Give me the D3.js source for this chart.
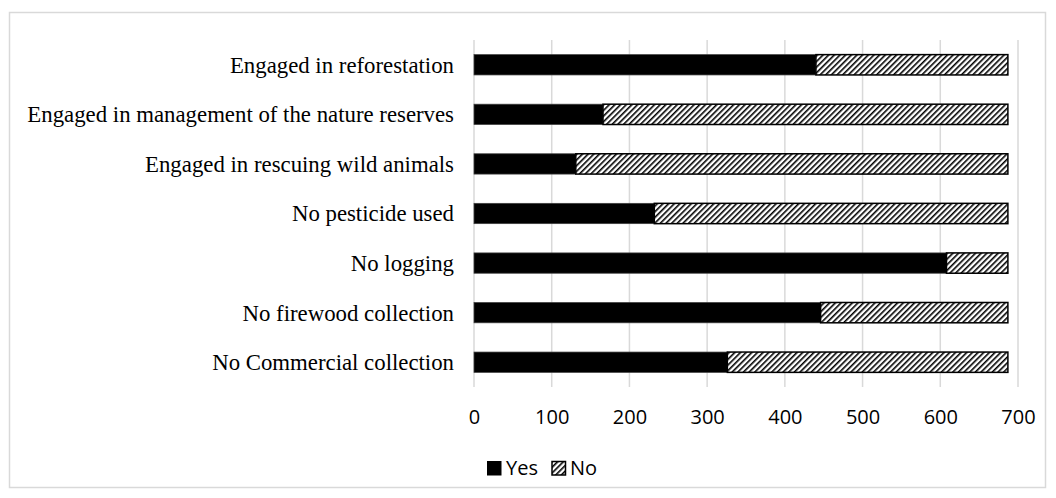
<!DOCTYPE html>
<html><head><meta charset="utf-8">
<script src="https://cdn.jsdelivr.net/npm/d3@7"></script>
<style>body{margin:0;background:#fff}svg{display:block}</style>
</head><body>
<script>
const categories = ["Engaged in reforestation","Engaged in management of the nature reserves","Engaged in rescuing wild animals","No pesticide used","No logging","No firewood collection","No Commercial collection"];
const yesValues = [440, 166, 131, 232, 608, 446, 326];
const noValues = [247, 521, 556, 455, 79, 241, 361];
const tickValues = [0,100,200,300,400,500,600,700];
const seriesNames = ["Yes","No"];

const W=1056,H=498;
const svg=d3.select("body").append("svg").attr("width",W).attr("height",H);
const defs=svg.append("defs");
const pat=defs.append("pattern").attr("id","hatch").attr("patternUnits","userSpaceOnUse")
  .attr("width",4).attr("height",4).attr("patternTransform","rotate(45)");
pat.append("rect").attr("width",4).attr("height",4).attr("fill","#fff");
pat.append("rect").attr("x",0).attr("y",0).attr("width",1.6).attr("height",4).attr("fill","#000");

svg.append("rect").attr("x",9.5).attr("y",12.5).attr("width",1036).attr("height",475)
  .attr("fill","#fff").attr("stroke","#d9d9d9").attr("stroke-width",1.5);

const x=d3.scaleLinear().domain([0,700]).range([474,1018]);
const y=d3.scaleBand().domain(categories).range([40,387]).paddingInner(0.59).paddingOuter(0.295);

svg.append("g").selectAll("line").data(tickValues).join("line")
  .attr("x1",d=>x(d)).attr("x2",d=>x(d)).attr("y1",40).attr("y2",387)
  .attr("stroke","#d9d9d9").attr("stroke-width",1.5);

const data=categories.map((c,i)=>({c,yes:yesValues[i],no:noValues[i]}));
const g=svg.append("g");
g.selectAll(".yes").data(data).join("rect").attr("class","yes")
  .attr("x",x(0)).attr("y",d=>y(d.c)).attr("width",d=>x(d.yes)-x(0)).attr("height",y.bandwidth())
  .attr("fill","#000").attr("stroke","#404040").attr("stroke-width",0.75);
g.selectAll(".no").data(data).join("rect").attr("class","no")
  .attr("x",d=>x(d.yes)).attr("y",d=>y(d.c)).attr("width",d=>x(d.yes+d.no)-x(d.yes)).attr("height",y.bandwidth())
  .attr("fill","url(#hatch)").attr("stroke","#000").attr("stroke-width",1.5);

svg.append("g").selectAll("text").data(categories).join("text")
  .attr("x",454).attr("y",d=>y(d)+y.bandwidth()/2).attr("dy","0.35em")
  .attr("text-anchor","end").attr("font-family","'Liberation Serif','Times New Roman',serif")
  .attr("font-size",22.8).attr("fill","#000").text(d=>d);

const xAxis=d3.axisBottom(x).tickValues(tickValues).tickSize(0).tickPadding(0);
const ax=svg.append("g").attr("transform","translate(0,387)").call(xAxis);
ax.select(".domain").remove();
ax.selectAll("text").attr("y",30).attr("dy","0.35em").attr("font-family","'Open Sans',sans-serif").attr("font-size",20).attr("fill","#000");

const leg=svg.append("g");
leg.append("rect").attr("x",487).attr("y",461).attr("width",14.5).attr("height",14.5).attr("fill","#000");
leg.append("text").attr("x",506).attr("y",468).attr("dy","0.35em").attr("font-family","'Open Sans',sans-serif").attr("font-size",20).text(seriesNames[0]);
leg.append("rect").attr("x",552).attr("y",461.5).attr("width",13.5).attr("height",13.5).attr("fill","url(#hatch)").attr("stroke","#000").attr("stroke-width",1.5);
leg.append("text").attr("x",570).attr("y",468).attr("dy","0.35em").attr("font-family","'Open Sans',sans-serif").attr("font-size",20).text(seriesNames[1]);
</script>
</body></html>
